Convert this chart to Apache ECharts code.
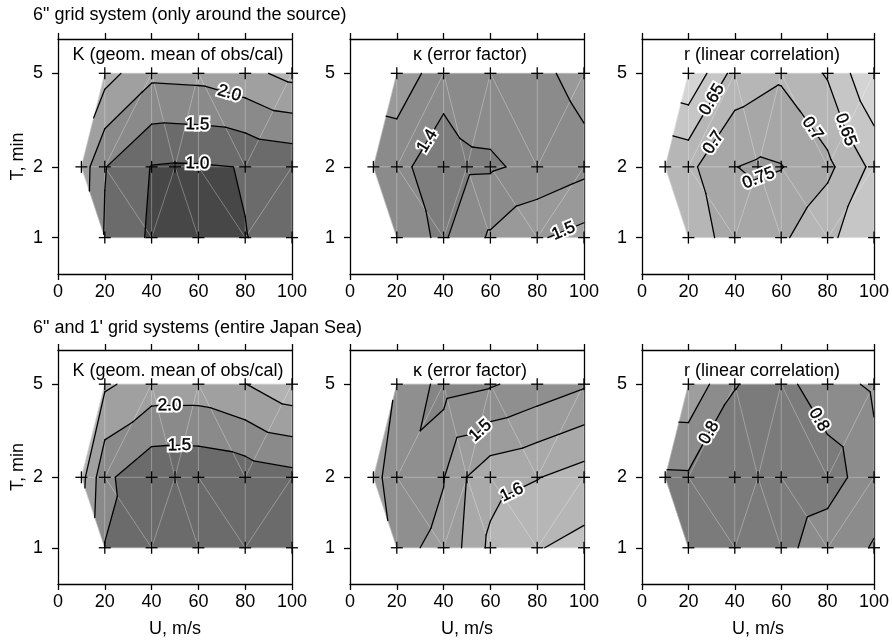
<!DOCTYPE html>
<html><head><meta charset="utf-8">
<script src="https://cdn.jsdelivr.net/npm/echarts@6/dist/echarts.min.js"></script>
<style>html,body{margin:0;padding:0;background:#fff}#c{width:892px;height:644px}</style>
</head><body><div id="c"></div>
<script>
// ---------- DATA ----------
// Node positions (U in m/s, T in min): row T=5, row T=2, row T=1
const U_NODES = [20, 40, 60, 80, 100,  10, 20, 40, 50, 60, 80, 100,  20, 40, 60, 80, 100];
const T_NODES = [5, 5, 5, 5, 5,  2, 2, 2, 2, 2, 2, 2,  1, 1, 1, 1, 1];
// Triangulation of the nodes (indices into the node arrays)
const TRIANGLES = [[5,6,0],[0,6,1],[6,7,1],[1,7,8],[1,8,2],[2,8,9],[2,9,10],[2,10,3],[3,10,4],[4,10,11],
                   [5,12,6],[6,12,13],[6,13,7],[7,13,8],[8,13,14],[8,14,9],[9,14,15],[9,15,10],[10,15,11],[11,15,16]];
// Values at the nodes
const kSource     = [2.70, 2.12, 2.156, 2.35, 2.65,  2.28, 1.52, 0.98, 0.95, 0.958, 1.014, 1.12,  1.46, 0.92, 0.88, 0.994, 1.08];
const kappaSource = [1.488, 1.416, 1.426, 1.439, 1.466,  1.405, 1.410, 1.379, 1.393, 1.394, 1.412, 1.436,  1.416, 1.394, 1.457, 1.495, 1.517];
const rSource     = [0.555, 0.668, 0.692, 0.645, 0.553,  0.697, 0.688, 0.749, 0.757, 0.752, 0.712, 0.637,  0.674, 0.720, 0.709, 0.660, 0.615];
const kSea        = [2.58, 2.27, 2.266, 2.49, 2.845,  2.68, 1.61, 1.12, 1.10, 1.114, 1.21, 1.345,  1.49, 1.20, 1.15, 1.20, 1.25];
const kappaSea    = [1.496, 1.432, 1.445, 1.47, 1.494,  1.519, 1.468, 1.498, 1.551, 1.582, 1.598, 1.622,  1.488, 1.512, 1.611, 1.6475, 1.663];
const rSea        = [0.710, 0.798, 0.818, 0.767, 0.743,  0.808, 0.807, 0.830, 0.835, 0.845, 0.828, 0.763,  0.820, 0.830, 0.820, 0.765, 0.748];
// Contour levels
const levelsKSource = [1.0, 1.5, 2.0, 2.5];
const levelsKappaSource = [1.4, 1.45, 1.5];
const levelsRSource = [0.6, 0.65, 0.7, 0.75];
const levelsKSea = [1.5, 2.0, 2.5];
const levelsKappaSea = [1.45, 1.5, 1.55, 1.6, 1.65];
const levelsRSea = [0.75, 0.8];
// Contour labels: [text, level, approx U, approx T]
const labelsKSource = [['2.0', 2.0, 72.8, 3.98], ['1.5', 1.5, 59.6, 2.98], ['1.0', 1.0, 59.6, 2.06]];
const labelsKappaSource = [['1.4', 1.4, 33.5, 2.56], ['1.5', 1.5, 91.2, 1.07]];
const labelsRSource = [['0.65', 0.65, 30.6, 3.85], ['0.7', 0.7, 29.2, 2.60], ['0.75', 0.75, 50.6, 1.76], ['0.7', 0.7, 73.4, 2.91], ['0.65', 0.65, 89.0, 2.91]];
const labelsKSea = [['2.0', 2.0, 47.7, 3.99], ['1.5', 1.5, 51.9, 2.69]];
const labelsKappaSea = [['1.5', 1.5, 55.6, 3.17], ['1.6', 1.6, 70.5, 1.62]];
const labelsRSea = [['0.8', 0.8, 28.5, 3.12], ['0.8', 0.8, 76.9, 3.56]];
// Axis
const U_MIN = 0, U_MAX = 100, U_STEP = 20;
const T_MIN = 0.7, T_MAX = 7;
const T_TICKS = [1, 2, 5];
// Texts
const ROW_TITLES = ['6" grid system (only around the source)', "6\" and 1' grid systems (entire Japan Sea)"];
const PANEL_TITLES = ['K (geom. mean of obs/cal)', '\u03ba (error factor)', 'r (linear correlation)'];
const X_NAME = 'U, m/s', Y_NAME = 'T, min';

// ---------- STYLE ----------
const FONT = '"Liberation Sans", Arial, Helvetica, sans-serif';
const BAND_COLORS = [
  ['#474747', '#6b6b6b', '#8a8a8a', '#a0a0a0', '#b3b3b3'],
  ['#7d7d7d', '#8b8b8b', '#999999', '#a5a5a5'],
  ['#d4d4d4', '#c6c6c6', '#b6b6b6', '#a7a7a7', '#9a9a9a'],
  ['#6b6b6b', '#8a8a8a', '#a0a0a0', '#b3b3b3'],
  ['#858585', '#8f8f8f', '#9c9c9c', '#a9a9a9', '#b6b6b6', '#c2c2c2'],
  ['#9e9e9e', '#8c8c8c', '#7b7b7b']
];
const GRID_LEFTS = [58, 350, 642];
const GRID_TOPS = [39, 350];
const GRID_W = 234, GRID_H = 235;

const PANELS = [
  {vals: kSource, levels: levelsKSource, labels: labelsKSource},
  {vals: kappaSource, levels: levelsKappaSource, labels: labelsKappaSource},
  {vals: rSource, levels: levelsRSource, labels: labelsRSource},
  {vals: kSea, levels: levelsKSea, labels: labelsKSea},
  {vals: kappaSea, levels: levelsKappaSea, labels: labelsKappaSea},
  {vals: rSea, levels: levelsRSea, labels: labelsRSea}
];

// ---------- CONTOURING (linear interpolation on triangles) ----------
const lg = Math.log10;
function interp(a, b, L) {
  const t = (L - a.v) / (b.v - a.v);
  return {u: a.u + t * (b.u - a.u), y: a.y + t * (b.y - a.y), v: L};
}
function clip(poly, L, keepAbove) {
  const out = [];
  for (let i = 0; i < poly.length; i++) {
    const cur = poly[i], prev = poly[(i + poly.length - 1) % poly.length];
    const cin = keepAbove ? cur.v >= L : cur.v <= L;
    const pin = keepAbove ? prev.v >= L : prev.v <= L;
    if (cin) { if (!pin) out.push(interp(prev, cur, L)); out.push(cur); }
    else if (pin) out.push(interp(prev, cur, L));
  }
  return out;
}
function buildPanel(vals, levels) {
  const nodes = vals.map((v, i) => ({u: U_NODES[i], y: lg(T_NODES[i]), v}));
  const bounds = [-Infinity].concat(levels, [Infinity]);
  const polys = [], segs = [];
  TRIANGLES.forEach(tri => {
    const pts = tri.map(i => nodes[i]);
    for (let k = 0; k < bounds.length - 1; k++) {
      let p = pts;
      if (isFinite(bounds[k])) p = clip(p, bounds[k], true);
      if (p.length >= 3 && isFinite(bounds[k + 1])) p = clip(p, bounds[k + 1], false);
      if (p.length >= 3) polys.push({band: k, pts: p.map(q => [q.u, q.y])});
    }
    levels.forEach(L => {
      const cr = [];
      [[0, 1], [1, 2], [2, 0]].forEach(e => {
        const a = pts[e[0]], b = pts[e[1]];
        if ((a.v - L) * (b.v - L) < 0) { const q = interp(a, b, L); cr.push([q.u, q.y]); }
      });
      if (cr.length === 2) segs.push({level: L, a: cr[0], b: cr[1]});
    });
  });
  return {polys, segs};
}
// mesh edges
const EDGES = [];
(function () {
  const seen = {};
  TRIANGLES.forEach(t => [[t[0], t[1]], [t[1], t[2]], [t[2], t[0]]].forEach(e => {
    const key = Math.min(e[0], e[1]) + '-' + Math.max(e[0], e[1]);
    if (!seen[key]) { seen[key] = 1; EDGES.push([U_NODES[e[0]], lg(T_NODES[e[0]]), U_NODES[e[1]], lg(T_NODES[e[1]])]); }
  }));
})();

// ---------- OPTION ----------
const grids = [], xAxes = [], yAxes = [], series = [];
const axisLineStyle = {color: '#000', width: 1.3};
for (let p = 0; p < 6; p++) {
  const row = Math.floor(p / 3), col = p % 3;
  grids.push({left: GRID_LEFTS[col], top: GRID_TOPS[row], width: GRID_W, height: GRID_H - row});
  const xb = {
    gridIndex: p, type: 'value', min: U_MIN, max: U_MAX, interval: U_STEP, position: 'bottom',
    axisLine: {show: true, onZero: false, lineStyle: axisLineStyle},
    axisTick: {show: true, inside: false, length: 6, lineStyle: axisLineStyle},
    axisLabel: {show: true, color: '#000', fontSize: 18, fontFamily: FONT, margin: 9},
    splitLine: {show: false}
  };
  if (row === 1) Object.assign(xb, {name: X_NAME, nameLocation: 'middle', nameGap: 36,
    nameTextStyle: {color: '#000', fontSize: 18, fontFamily: FONT}});
  xAxes.push(xb);
  xAxes.push({gridIndex: p, type: 'value', min: U_MIN, max: U_MAX, interval: U_STEP, position: 'top',
    axisLine: {show: true, onZero: false, lineStyle: axisLineStyle},
    axisTick: {show: true, inside: false, length: 6, lineStyle: axisLineStyle},
    axisLabel: {show: false}, splitLine: {show: false}});
  const yl = {
    gridIndex: p, type: 'value', min: lg(T_MIN), max: lg(T_MAX), position: 'left',
    axisLine: {show: true, onZero: false, lineStyle: axisLineStyle},
    axisTick: {show: true, inside: false, length: 6, lineStyle: axisLineStyle, customValues: T_TICKS.map(lg)},
    axisLabel: {show: true, color: '#000', fontSize: 18, fontFamily: FONT, margin: 15,
      customValues: T_TICKS.map(lg), formatter: v => String(Math.round(Math.pow(10, v)))},
    splitLine: {show: false}
  };
  if (col === 0) Object.assign(yl, {name: Y_NAME, nameLocation: 'middle', nameGap: 31,
    nameTextStyle: {color: '#000', fontSize: 18, fontFamily: FONT}});
  yAxes.push(yl);
  yAxes.push({gridIndex: p, type: 'value', min: lg(T_MIN), max: lg(T_MAX), position: 'right',
    axisLine: {show: true, onZero: false, lineStyle: axisLineStyle},
    axisTick: {show: false}, axisLabel: {show: false}, splitLine: {show: false}});

  const xi = 2 * p, yi = 2 * p;
  const panel = PANELS[p];
  const built = buildPanel(panel.vals, panel.levels);
  const colors = BAND_COLORS[p];

  // filled bands
  series.push({
    type: 'custom', xAxisIndex: xi, yAxisIndex: yi, silent: true, z: 1,
    data: built.polys.map((pl, i) => [pl.pts[0][0], pl.pts[0][1], i]),
    encode: {x: 0, y: 1},
    renderItem: (params, api) => {
      const pl = built.polys[api.value(2)];
      const c = colors[pl.band];
      return {type: 'polygon', shape: {points: pl.pts.map(q => api.coord(q))},
        style: {fill: c, stroke: c, lineWidth: 0.6}};
    }
  });
  // mesh lines
  series.push({
    type: 'custom', xAxisIndex: xi, yAxisIndex: yi, silent: true, z: 2,
    data: EDGES, encode: {x: [0, 2], y: [1, 3]},
    renderItem: (params, api) => {
      const a = api.coord([api.value(0), api.value(1)]), b = api.coord([api.value(2), api.value(3)]);
      return {type: 'line', shape: {x1: a[0], y1: a[1], x2: b[0], y2: b[1]},
        style: {stroke: 'rgba(255,255,255,0.33)', lineWidth: 0.8}};
    }
  });
  // contour lines
  series.push({
    type: 'custom', xAxisIndex: xi, yAxisIndex: yi, silent: true, z: 3,
    data: built.segs.map(s => [s.a[0], s.a[1], s.b[0], s.b[1]]), encode: {x: [0, 2], y: [1, 3]},
    renderItem: (params, api) => {
      const a = api.coord([api.value(0), api.value(1)]), b = api.coord([api.value(2), api.value(3)]);
      return {type: 'line', shape: {x1: a[0], y1: a[1], x2: b[0], y2: b[1]},
        style: {stroke: '#000', lineWidth: 1.3, lineCap: 'round'}};
    }
  });
  // node markers
  series.push({
    type: 'custom', xAxisIndex: xi, yAxisIndex: yi, silent: true, z: 4,
    data: U_NODES.map((u, i) => [u, lg(T_NODES[i])]), encode: {x: 0, y: 1},
    renderItem: (params, api) => {
      const c = api.coord([api.value(0), api.value(1)]);
      const h = 6;
      return {type: 'group', children: [
        {type: 'line', shape: {x1: c[0] - h, y1: c[1], x2: c[0] + h, y2: c[1]}, style: {stroke: '#000', lineWidth: 1.3}},
        {type: 'line', shape: {x1: c[0], y1: c[1] - h, x2: c[0], y2: c[1] + h}, style: {stroke: '#000', lineWidth: 1.3}}
      ]};
    }
  });
  // contour labels
  series.push({
    type: 'custom', xAxisIndex: xi, yAxisIndex: yi, silent: true, z: 5,
    data: panel.labels.map((l, i) => [l[2], lg(l[3]), i]), encode: {x: 0, y: 1},
    renderItem: (params, api) => {
      const spec = panel.labels[api.value(2)];
      const p0 = api.coord([api.value(0), api.value(1)]);
      let best = null, bd = Infinity, ang = 0;
      built.segs.forEach(s => {
        if (Math.abs(s.level - spec[1]) > 1e-9) return;
        const A = api.coord(s.a), B = api.coord(s.b);
        const dx = B[0] - A[0], dy = B[1] - A[1];
        const len2 = dx * dx + dy * dy || 1e-9;
        let t = ((p0[0] - A[0]) * dx + (p0[1] - A[1]) * dy) / len2;
        t = Math.max(0, Math.min(1, t));
        const q = [A[0] + t * dx, A[1] + t * dy];
        const d = Math.hypot(q[0] - p0[0], q[1] - p0[1]);
        if (d < bd) { bd = d; best = q; ang = Math.atan2(-dy, dx); }
      });
      if (!best) best = p0;
      if (ang > Math.PI / 2) ang -= Math.PI;
      if (ang < -Math.PI / 2) ang += Math.PI;
      const st = {text: spec[0], align: 'center', verticalAlign: 'middle', font: '17px ' + FONT};
      return {type: 'group', x: best[0], y: best[1], rotation: ang, children: [
        {type: 'text', style: Object.assign({}, st, {fill: '#fff', stroke: '#fff', lineWidth: 4.5})},
        {type: 'text', style: Object.assign({}, st, {fill: '#000', stroke: '#000', lineWidth: 0.4})}
      ]};
    }
  });
}

const graphics = [];
ROW_TITLES.forEach((t, r) => graphics.push({type: 'text', x: 33, y: r === 0 ? 15 : 328,
  style: {text: t, fill: '#000', font: '18px ' + FONT, align: 'left', verticalAlign: 'middle'}}));
for (let p = 0; p < 6; p++) {
  const row = Math.floor(p / 3), col = p % 3;
  graphics.push({type: 'text', x: GRID_LEFTS[col] + GRID_W / 2 + 3, y: row === 0 ? 55 : 371,
    style: {text: PANEL_TITLES[col], fill: '#000', font: '18px ' + FONT, align: 'center', verticalAlign: 'middle'}});
}

const chart = echarts.init(document.getElementById('c'), null, {renderer: 'canvas'});
chart.setOption({
  animation: false, backgroundColor: '#fff',
  grid: grids, xAxis: xAxes, yAxis: yAxes, series: series, graphic: graphics
});
</script></body></html>
